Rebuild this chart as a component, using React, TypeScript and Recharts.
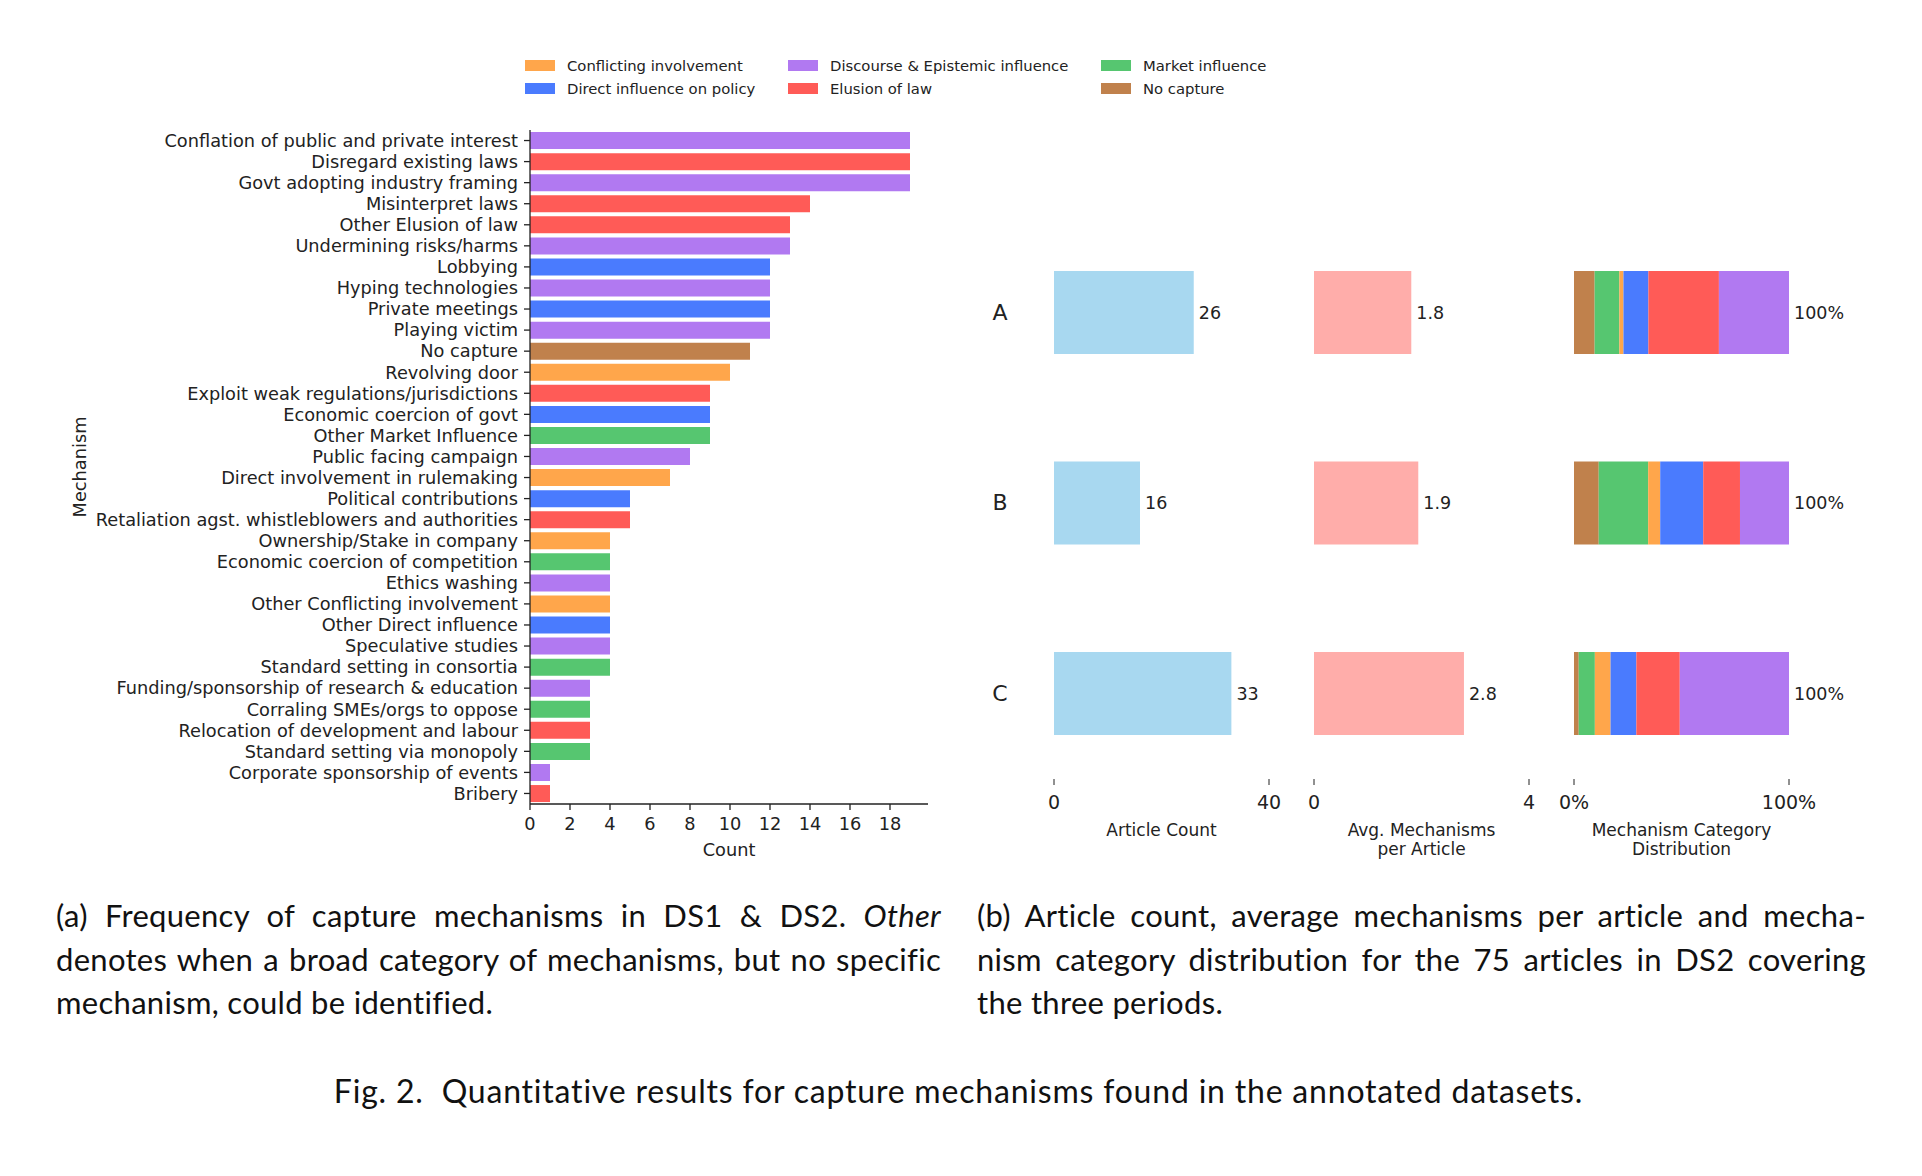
import React from "react";
import {
  Bar,
  BarChart,
  Cell,
  LabelList,
  Label,
  XAxis,
  YAxis,
} from "recharts";

// ---- data ----

const CATEGORIES = [
  "Conflicting involvement",
  "Direct influence on policy",
  "Discourse & Epistemic influence",
  "Elusion of law",
  "Market influence",
  "No capture",
];

const CATEGORY_COLORS = [
  "#FFA64B",
  "#4A7BFE",
  "#B179F1",
  "#FF5B57",
  "#56C670",
  "#C0814C",
];

const MECHANISMS = [
  "Conflation of public and private interest",
  "Disregard existing laws",
  "Govt adopting industry framing",
  "Misinterpret laws",
  "Other Elusion of law",
  "Undermining risks/harms",
  "Lobbying",
  "Hyping technologies",
  "Private meetings",
  "Playing victim",
  "No capture",
  "Revolving door",
  "Exploit weak regulations/jurisdictions",
  "Economic coercion of govt",
  "Other Market Influence",
  "Public facing campaign",
  "Direct involvement in rulemaking",
  "Political contributions",
  "Retaliation agst. whistleblowers and authorities",
  "Ownership/Stake in company",
  "Economic coercion of competition",
  "Ethics washing",
  "Other Conflicting involvement",
  "Other Direct influence",
  "Speculative studies",
  "Standard setting in consortia",
  "Funding/sponsorship of research & education",
  "Corraling SMEs/orgs to oppose",
  "Relocation of development and labour",
  "Standard setting via monopoly",
  "Corporate sponsorship of events",
  "Bribery",
];

const MECHANISM_COUNTS = [
  19, 19, 19, 14, 13, 13, 12, 12, 12, 12, 11, 10, 9, 9, 9, 8, 7, 5, 5, 4, 4, 4,
  4, 4, 4, 4, 3, 3, 3, 3, 1, 1,
];

// index into CATEGORIES
const MECHANISM_CATEGORY = [
  2, 3, 2, 3, 3, 2, 1, 2, 1, 2, 5, 0, 3, 1, 4, 2, 0, 1, 3, 0, 4, 2, 0, 1, 2, 4,
  2, 4, 3, 4, 2, 3,
];

const COUNT_TICKS = [0, 2, 4, 6, 8, 10, 12, 14, 16, 18];

const PERIODS = ["A", "B", "C"];
const ARTICLE_COUNTS = [26, 16, 33];
const AVG_MECHANISMS = [1.81, 1.94, 2.79];

// share of mechanism categories per period (%), stacked left to right
const NO_CAPTURE_PCT = [9.6, 11.5, 2.2];
const MARKET_PCT = [11.5, 23.0, 7.5];
const CONFLICTING_PCT = [1.9, 5.6, 7.3];
const DIRECT_PCT = [11.6, 20.0, 12.0];
const ELUSION_PCT = [32.8, 17.1, 20.2];
const DISCOURSE_PCT = [32.6, 22.8, 50.8];

const ARTICLE_COLOR = "#A8D8F0";
const AVG_COLOR = "#FFADAA";
const TEXT = "#222";
const FONT = "DejaVu Sans, sans-serif";
const CAPTION_FONT = "Lato, sans-serif";

const mechanismRows = MECHANISMS.map((name, i) => ({
  name,
  count: MECHANISM_COUNTS[i],
  category: MECHANISM_CATEGORY[i],
}));

const periodRows = PERIODS.map((p, i) => {
  const parts = [
    NO_CAPTURE_PCT[i],
    MARKET_PCT[i],
    CONFLICTING_PCT[i],
    DIRECT_PCT[i],
    ELUSION_PCT[i],
    DISCOURSE_PCT[i],
  ];
  return {
    idx: i,
    period: p,
    articles: ARTICLE_COUNTS[i],
    avg: AVG_MECHANISMS[i],
    noCapture: parts[0],
    market: parts[1],
    conflicting: parts[2],
    direct: parts[3],
    elusion: parts[4],
    discourse: parts[5],
    total: parts.reduce((a, b) => a + b, 0),
  };
});

const STACK = [
  { key: "noCapture", cat: 5 },
  { key: "market", cat: 4 },
  { key: "conflicting", cat: 0 },
  { key: "direct", cat: 1 },
  { key: "elusion", cat: 3 },
  { key: "discourse", cat: 2 },
];

// ---- small helpers ----

function axisTitle(lines: string[], dy: number, fontSize: number) {
  return (props: any) => {
    const { x, y, width } = props.viewBox;
    const cx = x + width / 2;
    return (
      <text
        x={cx}
        y={y + dy}
        textAnchor="middle"
        fontSize={fontSize}
        fill={TEXT}
        fontFamily={FONT}
      >
        {lines.map((l, i) => (
          <tspan key={l} x={cx} dy={i === 0 ? 0 : 19.5}>
            {l}
          </tspan>
        ))}
      </text>
    );
  };
}

function PeriodTick(props: any) {
  return (
    <text
      x={40}
      y={props.y}
      textAnchor="middle"
      dominantBaseline="central"
      fontSize={22}
      fill={TEXT}
      fontFamily={FONT}
    >
      {PERIODS[props.payload.value]}
    </text>
  );
}

function LegendBox() {
  const cols = [525, 788, 1101];
  return (
    <div style={{ position: "absolute", left: 0, top: 0 }}>
      {CATEGORIES.map((c, i) => {
        const col = Math.floor(i / 2);
        const row = i % 2;
        const top = 65.5 + row * 22.5;
        return (
          <div
            key={c}
            style={{
              position: "absolute",
              left: cols[col],
              top: top - 10,
              height: 20,
              display: "flex",
              alignItems: "center",
              whiteSpace: "nowrap",
              fontFamily: FONT,
              fontSize: 14.8,
              color: TEXT,
            }}
          >
            <span
              style={{
                display: "inline-block",
                width: 30,
                height: 11,
                background: CATEGORY_COLORS[i],
                marginRight: 12,
              }}
            />
            {c}
          </div>
        );
      })}
    </div>
  );
}

const periodYAxis = (show: boolean) =>
  show ? (
    <YAxis
      type="number"
      dataKey="idx"
      domain={[-0.55, 2.45]}
      ticks={[0, 1, 2]}
      width={94}
      axisLine={false}
      tickLine={false}
      tick={<PeriodTick />}
    />
  ) : (
    <YAxis
      type="number"
      dataKey="idx"
      domain={[-0.55, 2.45]}
      ticks={[0, 1, 2]}
      hide
    />
  );

const rightTick = { fontSize: 19, fill: TEXT, fontFamily: FONT };
const valueLabel = { fontSize: 17.5, fill: TEXT, fontFamily: FONT };

const captionBox = {
  position: "absolute" as const,
  top: 894,
  fontFamily: CAPTION_FONT,
  fontSize: 31,
  letterSpacing: 0.3,
  lineHeight: "43.5px",
  color: "#111",
};
const justLine = {
  textAlign: "justify" as const,
  textAlignLast: "justify" as const,
  whiteSpace: "nowrap" as const,
};

export default function App() {
  return (
    <div
      style={{
        position: "absolute",
        left: 0,
        top: 0,
        width: 1922,
        height: 1176,
        background: "#fff",
        fontFamily: FONT,
      }}
    >
      <LegendBox />

      {/* (a) mechanism frequency */}
      <div style={{ position: "absolute", left: 0, top: 0 }}>
        <BarChart
          width={940}
          height={880}
          data={mechanismRows}
          layout="vertical"
          margin={{ top: 130, right: 12, bottom: 0, left: 0 }}
          barCategoryGap="10%"
        >
          <XAxis
            type="number"
            domain={[0, 19.9]}
            ticks={COUNT_TICKS}
            height={76}
            stroke="#222"
            strokeWidth={1.3}
            tickSize={6}
            tickMargin={7.5}
            tick={{ fontSize: 17.75, fill: TEXT, fontFamily: FONT }}
          >
            <Label content={axisTitle(["Count"], 52, 17.75)} />
          </XAxis>
          <YAxis
            type="category"
            dataKey="name"
            width={530}
            interval={0}
            stroke="#222"
            strokeWidth={1.3}
            tickSize={6}
            tickMargin={6}
            tick={{ fontSize: 17.75, fill: TEXT, fontFamily: FONT }}
          >
            <Label
              content={(props: any) => {
                const { y, height } = props.viewBox;
                const cy = y + height / 2;
                return (
                  <text
                    x={80}
                    y={cy}
                    transform={`rotate(-90, 80, ${cy})`}
                    textAnchor="middle"
                    dominantBaseline="central"
                    fontSize={17.75}
                    fill={TEXT}
                    fontFamily={FONT}
                  >
                    Mechanism
                  </text>
                );
              }}
            />
          </YAxis>
          <Bar dataKey="count" isAnimationActive={false}>
            {mechanismRows.map((r) => (
              <Cell key={r.name} fill={CATEGORY_COLORS[r.category]} />
            ))}
          </Bar>
        </BarChart>
      </div>

      {/* (b) article count */}
      <div style={{ position: "absolute", left: 960, top: 0 }}>
        <BarChart
          width={369}
          height={880}
          data={periodRows}
          layout="vertical"
          margin={{ top: 207.5, right: 60, bottom: 0, left: 0 }}
        >
          <XAxis
            type="number"
            domain={[0, 40]}
            ticks={[0, 40]}
            height={101}
            axisLine={false}
            stroke="#222"
            tickSize={6}
            tickMargin={11}
            tick={rightTick}
          >
            <Label content={axisTitle(["Article Count"], 56.5, 17)} />
          </XAxis>
          {periodYAxis(true)}
          <Bar
            dataKey="articles"
            fill={ARTICLE_COLOR}
            barSize={83}
            isAnimationActive={false}
          >
            <LabelList
              dataKey="articles"
              position="right"
              offset={5}
              style={valueLabel}
            />
          </Bar>
        </BarChart>
      </div>

      {/* (b) average mechanisms per article */}
      <div style={{ position: "absolute", left: 1294, top: 0 }}>
        <BarChart
          width={295}
          height={880}
          data={periodRows}
          layout="vertical"
          margin={{ top: 207.5, right: 60, bottom: 0, left: 20 }}
        >
          <XAxis
            type="number"
            domain={[0, 4]}
            ticks={[0, 4]}
            height={101}
            axisLine={false}
            stroke="#222"
            tickSize={6}
            tickMargin={11}
            tick={rightTick}
          >
            <Label
              content={axisTitle(["Avg. Mechanisms", "per Article"], 56.5, 17)}
            />
          </XAxis>
          {periodYAxis(false)}
          <Bar
            dataKey="avg"
            fill={AVG_COLOR}
            barSize={83}
            isAnimationActive={false}
          >
            <LabelList
              dataKey="avg"
              position="right"
              offset={5}
              style={valueLabel}
              formatter={(v: any) => Number(v).toFixed(1)}
            />
          </Bar>
        </BarChart>
      </div>

      {/* (b) category distribution */}
      <div style={{ position: "absolute", left: 1554, top: 0 }}>
        <BarChart
          width={325}
          height={880}
          data={periodRows}
          layout="vertical"
          margin={{ top: 207.5, right: 90, bottom: 0, left: 20 }}
        >
          <XAxis
            type="number"
            domain={[0, 100]}
            ticks={[0, 100]}
            height={101}
            axisLine={false}
            stroke="#222"
            tickSize={6}
            tickMargin={11}
            tick={rightTick}
            tickFormatter={(v: number) => `${v}%`}
          >
            <Label
              content={axisTitle(
                ["Mechanism Category", "Distribution"],
                56.5,
                17
              )}
            />
          </XAxis>
          {periodYAxis(false)}
          {STACK.map((s, i) => (
            <Bar
              key={s.key}
              dataKey={s.key}
              stackId="dist"
              fill={CATEGORY_COLORS[s.cat]}
              barSize={83}
              isAnimationActive={false}
            >
              {i === STACK.length - 1 && (
                <LabelList
                  dataKey="total"
                  position="right"
                  offset={5}
                  style={valueLabel}
                  formatter={(v: any) => `${Math.round(Number(v))}%`}
                />
              )}
            </Bar>
          ))}
        </BarChart>
      </div>

      {/* captions */}
      <div style={{ ...captionBox, left: 56, width: 885 }}>
        <div style={justLine}>
          (a) Frequency of capture mechanisms in DS1 &amp; DS2. <i>Other</i>
        </div>
        <div style={justLine}>
          denotes when a broad category of mechanisms, but no specific
        </div>
        <div>mechanism, could be identified.</div>
      </div>
      <div style={{ ...captionBox, left: 977, width: 889 }}>
        <div style={justLine}>
          (b) Article count, average mechanisms per article and mecha-
        </div>
        <div style={justLine}>
          nism category distribution for the 75 articles in DS2 covering
        </div>
        <div>the three periods.</div>
      </div>
      <div
        style={{
          ...captionBox,
          top: 1069,
          left: 0,
          width: 1917,
          fontSize: 32,
          letterSpacing: 0.8,
          textAlign: "center",
          whiteSpace: "pre",
        }}
      >
        {"Fig. 2.  Quantitative results for capture mechanisms found in the annotated datasets."}
      </div>
    </div>
  );
}
